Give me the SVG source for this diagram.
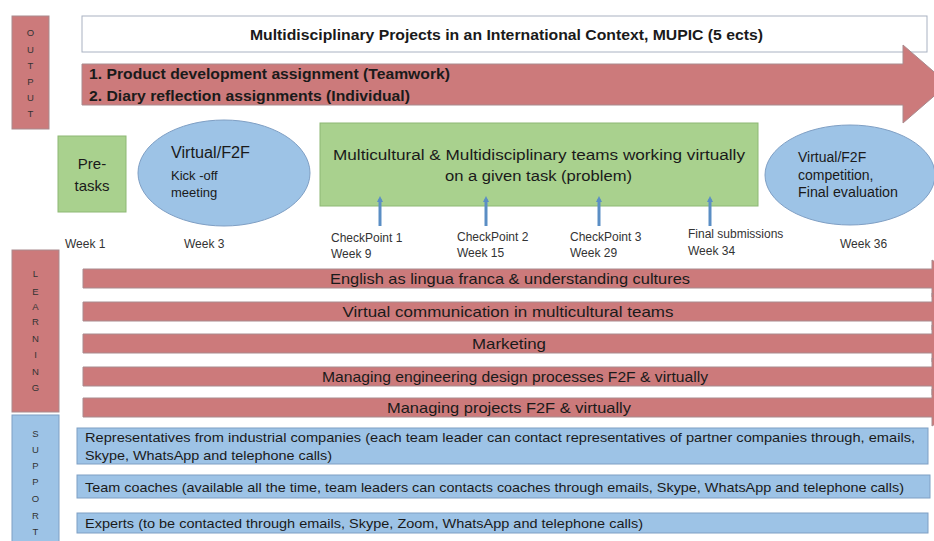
<svg xmlns="http://www.w3.org/2000/svg" width="934" height="541" viewBox="0 0 934 541">
<defs>
<style>
text{font-family:"Liberation Sans",Arial,sans-serif;fill:#1a1a1a}
.red{fill:#cc7a7b;stroke:#a98a8e;stroke-width:1}
.blue{fill:#9dc3e6;stroke:#7f9fc4;stroke-width:1}
.green{fill:#a9d18e;stroke:#8db874;stroke-width:1}
.vl{font-size:9.5px;text-anchor:middle;fill:#333}
.b{font-weight:bold}
.lt{font-size:14.5px;text-anchor:middle}
.st{font-size:13.5px}
.sm{font-size:12px;fill:#333}
.cp{stroke:#5b8ec4;stroke-width:3;fill:none}
</style>
<marker id="ah" markerWidth="6" markerHeight="6" refX="3" refY="3" orient="auto" markerUnits="userSpaceOnUse" viewBox="0 0 6 6">
<path d="M0,0 L6,3 L0,6 Z" fill="#5b8ec4"/>
</marker>
</defs>
<rect width="934" height="541" fill="#ffffff"/>

<g id="output-label">
<rect class="red" x="12" y="16" width="37" height="113"/>
<text class="vl" x="30.5" y="36">O</text>
<text class="vl" x="30.5" y="53">U</text>
<text class="vl" x="30.5" y="69">T</text>
<text class="vl" x="30.5" y="85">P</text>
<text class="vl" x="30.5" y="101">U</text>
<text class="vl" x="30.5" y="117">T</text>
</g>

<g id="title">
<rect x="82" y="16" width="845" height="36" fill="#ffffff" stroke="#a9b2c2" stroke-width="1"/>
<text class="b" x="250" y="40" font-size="15" textLength="513" lengthAdjust="spacingAndGlyphs">Multidisciplinary Projects in an International Context, MUPIC (5 ects)</text>
</g>

<g id="output-arrow">
<path class="red" d="M82,64 L903,64 L903,45 L948,84 L903,123 L903,105 L82,105 Z"/>
<text class="b" x="89" y="79" font-size="15" textLength="361" lengthAdjust="spacingAndGlyphs">1. Product development assignment (Teamwork)</text>
<text class="b" x="89" y="101" font-size="15" textLength="321" lengthAdjust="spacingAndGlyphs">2. Diary reflection assignments  (Individual)</text>
</g>

<g id="pretasks">
<rect class="green" x="58" y="136" width="68" height="76"/>
<text x="92" y="169" font-size="15" text-anchor="middle">Pre-</text>
<text x="92" y="191" font-size="15" text-anchor="middle">tasks</text>
<text class="sm" x="65" y="248">Week 1</text>
</g>

<g id="kickoff">
<ellipse class="blue" cx="224" cy="173" rx="86" ry="53"/>
<text x="171" y="158" font-size="16" textLength="79" lengthAdjust="spacingAndGlyphs">Virtual/F2F</text>
<text x="171" y="180" font-size="13">Kick -off</text>
<text x="171" y="197" font-size="13">meeting</text>
<text class="sm" x="184" y="248">Week 3</text>
</g>

<g id="teams">
<rect class="green" x="320" y="123" width="438" height="83"/>
<text x="333" y="160" font-size="14" textLength="412" lengthAdjust="spacingAndGlyphs">Multicultural &amp; Multidisciplinary teams working virtually</text>
<text x="445" y="181" font-size="14" textLength="187" lengthAdjust="spacingAndGlyphs">on a given task (problem)</text>
</g>

<g id="final">
<ellipse class="blue" cx="850" cy="175" rx="85" ry="50"/>
<text x="798" y="162" font-size="14">Virtual/F2F</text>
<text x="798" y="180" font-size="14">competition,</text>
<text x="798" y="197" font-size="14" textLength="100" lengthAdjust="spacingAndGlyphs">Final evaluation</text>
<text class="sm" x="840" y="248">Week 36</text>
</g>

<g id="checkpoints">
<text class="sm" x="331" y="242">CheckPoint 1</text>
<text class="sm" x="331" y="258">Week  9</text>
<text class="sm" x="457" y="241">CheckPoint 2</text>
<text class="sm" x="457" y="257">Week 15</text>
<text class="sm" x="570" y="241">CheckPoint 3</text>
<text class="sm" x="570" y="257">Week 29</text>
<text class="sm" x="688" y="238">Final submissions</text>
<text class="sm" x="688" y="255">Week 34</text>
</g>

<g id="connectors">
<line class="cp" x1="380" y1="226" x2="380" y2="199" marker-end="url(#ah)"/>
<line class="cp" x1="486" y1="226" x2="486" y2="199" marker-end="url(#ah)"/>
<line class="cp" x1="599" y1="226" x2="599" y2="199" marker-end="url(#ah)"/>
<line class="cp" x1="710" y1="226" x2="710" y2="199" marker-end="url(#ah)"/>
</g>

<g id="learning-label">
<rect class="red" x="12" y="250" width="47" height="162"/>
<text class="vl" x="35.5" y="277">L</text>
<text class="vl" x="35.5" y="295">E</text>
<text class="vl" x="35.5" y="310">A</text>
<text class="vl" x="35.5" y="325">R</text>
<text class="vl" x="35.5" y="342">N</text>
<text class="vl" x="35.5" y="358">I</text>
<text class="vl" x="35.5" y="375">N</text>
<text class="vl" x="35.5" y="391">G</text>
</g>

<g id="learning-1">
<path class="red" d="M83,269 L932,269 L932,260 L960,278.5 L932,297 L932,288 L83,288 Z"/>
<text class="lt" x="510" y="284" textLength="360" lengthAdjust="spacingAndGlyphs">English  as lingua franca &amp; understanding cultures</text>
</g>
<g id="learning-2">
<path class="red" d="M83,302 L932,302 L932,293 L960,311.5 L932,330 L932,321 L83,321 Z"/>
<text class="lt" x="508" y="317" textLength="331" lengthAdjust="spacingAndGlyphs">Virtual communication in multicultural teams</text>
</g>
<g id="learning-3">
<path class="red" d="M83,334 L932,334 L932,325 L960,343.5 L932,362 L932,353 L83,353 Z"/>
<text class="lt" x="509" y="349" textLength="74" lengthAdjust="spacingAndGlyphs">Marketing</text>
</g>
<g id="learning-4">
<path class="red" d="M83,367 L932,367 L932,358 L960,376.5 L932,395 L932,386 L83,386 Z"/>
<text class="lt" x="515" y="382" textLength="386" lengthAdjust="spacingAndGlyphs">Managing engineering design processes F2F &amp; virtually</text>
</g>
<g id="learning-5">
<path class="red" d="M83,398 L932,398 L932,389 L960,407.5 L932,426 L932,417 L83,417 Z"/>
<text class="lt" x="509" y="413" textLength="244" lengthAdjust="spacingAndGlyphs">Managing projects F2F &amp; virtually</text>
</g>

<g id="support-label">
<rect class="blue" x="12" y="415" width="47" height="130"/>
<text class="vl" x="35.5" y="437">S</text>
<text class="vl" x="35.5" y="453">U</text>
<text class="vl" x="35.5" y="469">P</text>
<text class="vl" x="35.5" y="485">P</text>
<text class="vl" x="35.5" y="502">O</text>
<text class="vl" x="35.5" y="519">R</text>
<text class="vl" x="35.5" y="535">T</text>
</g>

<g id="support-1">
<rect class="blue" x="77" y="428" width="851" height="36"/>
<text class="st" x="85" y="442" textLength="830" lengthAdjust="spacingAndGlyphs">Representatives from industrial companies (each team leader can contact representatives of partner companies through, emails,</text>
<text class="st" x="85" y="460" textLength="247" lengthAdjust="spacingAndGlyphs">Skype, WhatsApp and telephone calls)</text>
</g>
<g id="support-2">
<rect class="blue" x="77" y="475" width="853" height="23"/>
<text class="st" x="85" y="492" textLength="819" lengthAdjust="spacingAndGlyphs">Team coaches (available all the time, team leaders can contacts coaches through emails, Skype, WhatsApp and telephone calls)</text>
</g>
<g id="support-3">
<rect class="blue" x="77" y="513" width="851" height="20"/>
<text class="st" x="85" y="528" textLength="558" lengthAdjust="spacingAndGlyphs">Experts (to be contacted through emails, Skype, Zoom, WhatsApp and telephone calls)</text>
</g>
</svg>
